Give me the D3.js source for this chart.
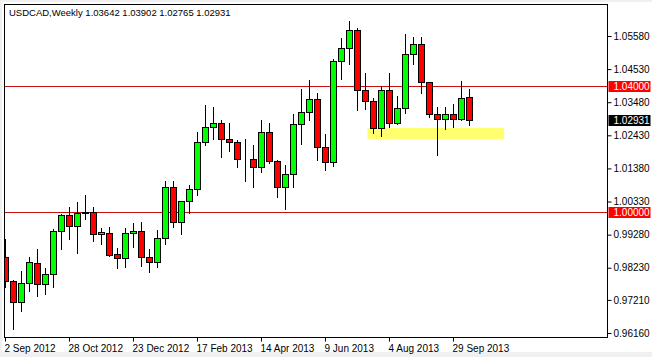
<!DOCTYPE html>
<html>
<head>
<meta charset="utf-8">
<script src="https://cdn.jsdelivr.net/npm/d3@7"></script>
<style>
  html, body { margin: 0; padding: 0; background: #f0f0f0; }
  svg { display: block; }
  text { font-family: "Liberation Sans", Arial, sans-serif; }
</style>
</head>
<body>
<div id="chart"></div>
<script>
// weekly USDCAD candles, first week 2 Sep 2012
const firstWeek = new Date(Date.UTC(2012, 8, 2));
const open  = [0.98580, 0.97800, 0.97134, 0.97737, 0.98371, 0.97705, 0.98022, 0.99395, 0.99893, 0.99554,
               0.99966, 0.99988, 0.99291, 0.99322, 0.98656, 0.98530, 0.99322, 0.99395, 0.98561, 0.98403,
               0.99164, 1.00781, 0.99671, 1.00337, 1.00718, 1.02209, 1.02684, 1.02811, 1.02304, 1.02209,
               1.01669, 1.01669, 1.01435, 1.02526, 1.01606, 1.00781, 1.01194, 1.02780, 1.03160, 1.03572,
               1.02050, 1.01574, 1.04797, 1.05190, 1.05761, 1.03858, 1.03509, 1.02653, 1.03858, 1.02811,
               1.03287, 1.05000, 1.05317, 1.04112, 1.03097, 1.02938, 1.03097, 1.02938, 1.03642];
const high  = [0.99142, 0.97850, 0.98127, 0.98580, 0.98824, 0.98212, 0.99468, 0.99935, 1.00147, 1.00315,
               1.00537, 1.00147, 0.99491, 0.99513, 0.98847, 0.99481, 0.99640, 0.99681, 0.98824, 0.99427,
               1.00972, 1.00972, 1.00350, 1.00845, 1.02535, 1.03392, 1.03319, 1.02916, 1.02811, 1.02282,
               1.02304, 1.02113, 1.02906, 1.02811, 1.01647, 1.01479, 1.03097, 1.03890, 1.04184, 1.03763,
               1.02465, 1.04841, 1.05507, 1.06056, 1.05824, 1.04397, 1.03604, 1.03994, 1.04397, 1.03668,
               1.05634, 1.05539, 1.05539, 1.04130, 1.03319, 1.03338, 1.03414, 1.04153, 1.03902];
const low   = [0.97619, 0.96278, 0.96868, 0.97502, 0.97334, 0.97397, 0.97610, 0.98834, 0.99151, 0.98707,
               0.99776, 0.99088, 0.98993, 0.98612, 0.98212, 0.98263, 0.98897, 0.98295, 0.98105, 0.98263,
               0.98993, 0.99532, 0.99291, 0.99957, 1.00528, 1.02113, 1.02304, 1.01752, 1.01942, 1.01416,
               1.00991, 1.00781, 1.01276, 1.01542, 1.00464, 1.00084, 1.00781, 1.02145, 1.02906, 1.01638,
               1.01336, 1.01457, 1.04207, 1.04682, 1.03233, 1.03255, 1.02513, 1.02418, 1.02703, 1.02780,
               1.03128, 1.04682, 1.03763, 1.03001, 1.01796, 1.02640, 1.02703, 1.02906, 1.02765];
const close = [0.97810, 0.97134, 0.97737, 0.98403, 0.97705, 0.98022, 0.99395, 0.99893, 0.99554, 0.99957,
               0.99988, 0.99291, 0.99354, 0.98644, 0.98530, 0.99322, 0.99395, 0.98561, 0.98403, 0.99164,
               1.00781, 0.99671, 1.00337, 1.00718, 1.02209, 1.02684, 1.02811, 1.02304, 1.02209, 1.01669,
               1.01665, 1.01435, 1.02526, 1.01606, 1.00781, 1.01194, 1.02780, 1.03160, 1.03572, 1.02050,
               1.01574, 1.04797, 1.05190, 1.05761, 1.03858, 1.03509, 1.02653, 1.03858, 1.02811, 1.03287,
               1.05000, 1.05317, 1.04112, 1.03097, 1.02938, 1.03097, 1.02938, 1.03604, 1.02931];

const priceTicks = [0.9616, 0.9721, 0.9823, 0.9928, 1.0033, 1.0138, 1.0243, 1.0348, 1.0453, 1.0558];
const dateTicks = ["2012-09-02", "2012-10-28", "2012-12-23", "2013-02-17",
                   "2013-04-14", "2013-06-09", "2013-08-04", "2013-09-29"];
const levels = [1.04, 1.00];
// support zone: from week index, to week index, low, high
const zoneWeeks = [45.3, 62.4];
const zonePrices = [1.02313, 1.02662];

const width = 652, height = 357;
const plot = { left: 4.5, top: 4.5, right: 607.5, bottom: 337.5 };

const svg = d3.select("#chart").append("svg")
    .attr("width", width)
    .attr("height", height);

svg.append("rect")
    .attr("x", 2).attr("y", 2)
    .attr("width", width - 2).attr("height", 350)
    .attr("fill", "#fff");

const weeks = d3.utcSunday.range(firstWeek, d3.utcSunday.offset(firstWeek, close.length));
const candles = weeks.map((d, i) => ({ date: d, o: open[i], h: high[i], l: low[i], c: close[i] }));

const x = d3.scaleUtc()
    .domain([firstWeek, weeks[weeks.length - 1]])
    .range([5, 5 + 8 * (weeks.length - 1)]);

const y = d3.scaleLinear()
    .domain([0.9616, 1.0558])
    .range([333, 36]);

const px = v => Math.round(v) + 0.5;

svg.append("clipPath").attr("id", "clip")
  .append("rect")
    .attr("x", plot.left + 0.5).attr("y", plot.top + 0.5)
    .attr("width", plot.right - plot.left - 1)
    .attr("height", plot.bottom - plot.top - 1);

const g = svg.append("g").attr("clip-path", "url(#clip)");

// yellow zone
const weekX = d3.scaleLinear().domain([0, weeks.length - 1]).range(x.range());
g.append("rect")
    .attr("x", weekX(zoneWeeks[0]))
    .attr("y", y(zonePrices[1]))
    .attr("width", weekX(zoneWeeks[1]) - weekX(zoneWeeks[0]))
    .attr("height", y(zonePrices[0]) - y(zonePrices[1]))
    .attr("fill", "#ffff70");

// horizontal levels
g.selectAll("line.level")
  .data(levels)
  .join("line")
    .attr("class", "level")
    .attr("x1", plot.left).attr("x2", plot.right)
    .attr("y1", d => px(y(d))).attr("y2", d => px(y(d)))
    .attr("stroke", "#c81010")
    .attr("stroke-width", 1);

// wicks
g.selectAll("line.wick")
  .data(candles)
  .join("line")
    .attr("class", "wick")
    .attr("x1", d => px(x(d.date))).attr("x2", d => px(x(d.date)))
    .attr("y1", d => Math.round(y(d.h))).attr("y2", d => Math.round(y(d.l)) + 1)
    .attr("stroke", "#000");

// bodies
g.selectAll("rect.body")
  .data(candles)
  .join("rect")
    .attr("class", "body")
    .attr("x", d => Math.round(x(d.date)) - 2.5)
    .attr("width", 6)
    .attr("y", d => Math.round(y(Math.max(d.o, d.c))) + 0.5)
    .attr("height", d => Math.max(0, Math.round(y(Math.min(d.o, d.c))) - Math.round(y(Math.max(d.o, d.c)))))
    .attr("fill", d => d.c >= d.o ? "#00ff00" : "#ff0000")
    .attr("stroke", "#000")
    .attr("stroke-width", 1);

// frame
svg.append("rect")
    .attr("x", plot.left).attr("y", plot.top)
    .attr("width", plot.right - plot.left)
    .attr("height", plot.bottom - plot.top)
    .attr("fill", "none")
    .attr("stroke", "#000");

// price axis
const yAxis = d3.axisRight(y)
    .tickValues(priceTicks)
    .tickFormat(d3.format(".5f"))
    .tickSize(4)
    .tickPadding(2);

svg.append("g")
    .attr("transform", `translate(${plot.right},0)`)
    .call(yAxis)
    .call(s => s.select(".domain").remove())
    .call(s => s.selectAll("text").attr("font-size", 10).attr("font-family", null).attr("fill", "#000"));

// date axis
const xAxis = d3.axisBottom(x)
    .tickValues(dateTicks.map(d => new Date(d + "T00:00:00Z")))
    .tickFormat(d3.utcFormat("%-d %b %Y"))
    .tickSize(4)
    .tickPadding(3);

svg.append("g")
    .attr("transform", `translate(0,${plot.bottom})`)
    .call(xAxis)
    .call(s => s.select(".domain").remove())
    .call(s => s.selectAll("text")
        .attr("font-size", 10).attr("font-family", null).attr("fill", "#000")
        .attr("text-anchor", "start").attr("x", -1));

// price tags
const tags = [
    { v: levels[0], fill: "#ff0000" },
    { v: levels[1], fill: "#ff0000" },
    { v: close[close.length - 1], fill: "#000" }
];
const tag = svg.selectAll("g.tag").data(tags).join("g")
    .attr("class", "tag")
    .attr("transform", d => `translate(${plot.right},${Math.round(y(d.v))})`);
tag.append("rect")
    .attr("x", 1).attr("y", -5)
    .attr("width", 42).attr("height", 11)
    .attr("fill", d => d.fill);
tag.append("text")
    .attr("x", 6).attr("y", 0.5)
    .attr("dy", "0.32em")
    .attr("font-size", 10)
    .attr("fill", "#fff")
    .text(d => d3.format(".5f")(d.v));

// title
const last = close.length - 1;
svg.append("text")
    .attr("x", 9).attr("y", 16)
    .attr("font-size", 9.5)
    .attr("fill", "#000")
    .text(`USDCAD,Weekly  ${[open[last], high[last], low[last], close[last]].map(d3.format(".5f")).join(" ")}`);
</script>
</body>
</html>
